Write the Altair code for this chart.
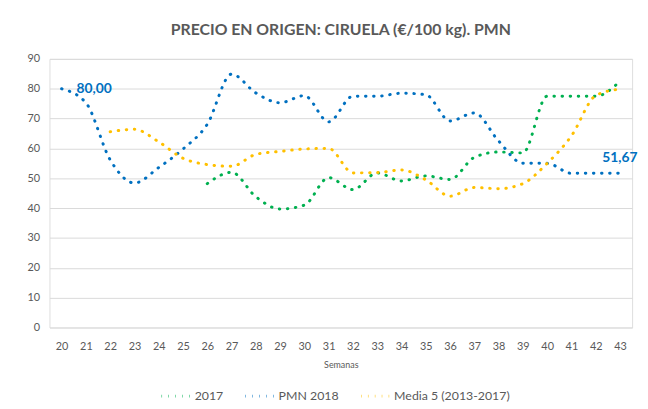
import altair as alt
import pandas as pd

weeks = list(range(20, 44))
series_names = ["2017", "PMN 2018", "Media 5 (2013-2017)"]
colors = ["#00B050", "#0070C0", "#FFC000"]

s2017 = [None, None, None, None, None, None,
         48.2, 52.0, 43.8, 39.7, 41.0, 50.2, 46.2, 51.8, 49.1, 50.8, 49.6,
         57.0, 58.8, 58.5, 77.5, 77.5, 77.5, 82.5]
pmn2018 = [80.0, 75.3, 56.2, 48.4, 53.6, 59.8, 68.1, 84.9, 78.6, 75.3, 77.7, 68.9,
           77.5, 77.5, 78.5, 78.0, 69.2, 71.9, 62.5, 55.0, 55.0, 51.67, 51.67, 51.67]
media5 = [None, None, 65.6, 66.4, 62.2, 56.7, 54.6, 54.0, 58.0, 59.0, 59.8, 60.0,
          51.8, 51.9, 52.8, 49.5, 44.0, 46.9, 46.5, 48.2, 55.0, 64.2, 77.7, 79.9]
y_ticks = list(range(0, 91, 10))

rows = []
for name, vals in zip(series_names, [s2017, pmn2018, media5]):
    for w, v in zip(weeks, vals):
        if v is not None:
            rows.append({"Semana": w, "Serie": name, "Valor": v,
                         "Etiqueta": f"{v:.2f}".replace(".", ",")})
df = pd.DataFrame(rows)

FONT = "Lato"
GRAY = "#595959"

x_enc = alt.X("Semana:O", title="Semanas",
              scale=alt.Scale(type="point", padding=0.5),
              axis=alt.Axis(labelAngle=0, ticks=False, domain=False, grid=False,
                            labelPadding=13, labelFontSize=11, labelColor=GRAY,
                            titleFontSize=9, titleColor=GRAY, titleFontWeight="normal",
                            titlePadding=10, labelFont=FONT, titleFont=FONT))
y_enc = alt.Y("Valor:Q", title=None,
              scale=alt.Scale(domain=[0, 90], nice=False, zero=True),
              axis=alt.Axis(values=y_ticks, tickCount=10, labelOverlap=False,
                            ticks=False, domain=False,
                            gridColor="#D9D9D9", gridWidth=1, labelPadding=10,
                            labelFontSize=11, labelColor=GRAY, labelFont=FONT))

lines = alt.Chart(df).mark_line(
    interpolate="monotone", strokeWidth=3, strokeDash=[0.5, 7.7], strokeCap="round"
).encode(
    x=x_enc, y=y_enc,
    color=alt.Color("Serie:N", sort=series_names,
                    scale=alt.Scale(domain=series_names, range=colors),
                    legend=alt.Legend(title=None, orient="none", direction="horizontal",
                                      legendX=112, legendY=325,
                                      symbolType="stroke", symbolSize=900,
                                      symbolStrokeWidth=3, symbolDash=[0.5, 6.5],
                                      labelFont=FONT, labelFontSize=12.5, labelColor=GRAY,
                                      labelOffset=2, columnPadding=16)),
    detail="Serie:N",
)

first_lbl = alt.Chart(df).transform_filter(
    (alt.datum.Serie == "PMN 2018") & (alt.datum.Semana == 20)
).mark_text(align="left", baseline="middle", dx=15, fontSize=14, fontWeight="bold",
            font=FONT, color="#0070C0").encode(x=x_enc, y=y_enc, text="Etiqueta:N")

last_lbl = alt.Chart(df).transform_filter(
    (alt.datum.Serie == "PMN 2018") & (alt.datum.Semana == 43)
).mark_text(align="center", baseline="bottom", dy=-8, fontSize=14, fontWeight="bold",
            font=FONT, color="#0070C0").encode(x=x_enc, y=y_enc, text="Etiqueta:N")

chart = alt.layer(lines, first_lbl, last_lbl).properties(
    width=590, height=272,
    title=alt.TitleParams("PRECIO EN ORIGEN: CIRUELA (€/100 kg). PMN", anchor="middle",
                          fontSize=16, font=FONT, fontWeight="bold", color=GRAY, offset=15),
    autosize=alt.AutoSizeParams(type="none"),
    padding={"left": 42, "top": 49, "right": 8, "bottom": 80},
).configure_view(stroke=None).configure(background="white")

chart.save("out.html", embed_options={"renderer": "svg", "actions": False})
